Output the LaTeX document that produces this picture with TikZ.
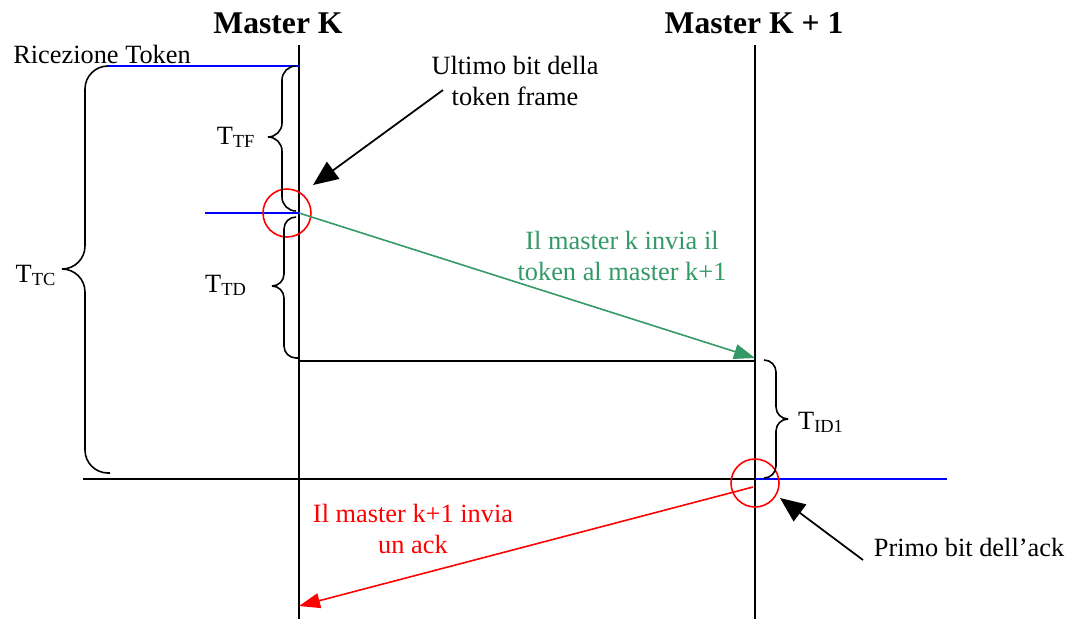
\documentclass[tikz,border=0pt]{standalone}
\usepackage{fontspec}
\setmainfont{Liberation Serif}
\usetikzlibrary{arrows.meta}
\definecolor{sendgreen}{RGB}{51,153,102}
\tikzset{
  timeline/.style={line width=1pt, draw=black},
  bitline/.style={line width=1pt, draw=blue},
  bitmark/.style={line width=0.9pt, draw=red},
  bracepath/.style={line width=0.9pt, draw=black},
  msgarrow/.style={line width=0.9pt, -{Triangle[length=0.42cm, width=0.3cm]}},
  callout/.style={line width=1pt, draw=black, -{Triangle[length=0.5cm, width=0.42cm]}},
  lbl/.style={font=\fontsize{15}{17.5}\selectfont, inner sep=0pt, align=center, anchor=base},
  mastertitle/.style={font=\fontsize{18}{21}\selectfont\bfseries, inner sep=0pt, anchor=base},
}

\begin{document}
\begin{tikzpicture}[x=0.02cm, y=-0.02cm]
\useasboundingbox (0,0) rectangle (1070,619);
% time axes of the two masters
\coordinate (kTop) at (299,45);
\coordinate (kBot) at (299,619);
\coordinate (kaTop) at (755,45);
\coordinate (kaBot) at (755,619);
\node[mastertitle] (masterK) at (278,33) {Master K};
\node[mastertitle] (masterKa) at (754,33) {Master K + 1};
\draw[timeline] (kTop) -- (kBot);
\draw[timeline] (kaTop) -- (kaBot);
% events
\coordinate (rxStart) at (299,66);
\coordinate (rxLeft) at (107,66);
\coordinate (lastBit) at (299,213);
\coordinate (lastBitLeft) at (205,213);
\coordinate (tokenIn) at (755,358);
\coordinate (tdEnd) at (299,361);
\coordinate (tdEndRight) at (755,361);
\coordinate (ackBit) at (755,479);
\coordinate (ackLeft) at (83,479);
\coordinate (ackRight) at (947,479);
\coordinate (ackOut) at (753,487);
\coordinate (ackIn) at (299,606);
\draw[bitline] (rxLeft) -- (rxStart);
\draw[bitline] (lastBitLeft) -- (lastBit);
\draw[timeline] (tdEnd) -- (tdEndRight);
\draw[timeline] (ackLeft) -- (ackBit);
\draw[bitline] (ackBit) -- (ackRight);
\node[lbl] (rxLabel) at (102,63) {Ricezione Token};
% bit markers
\draw[bitmark] (287,213) circle (0.48cm);
\draw[bitmark] (755,483) circle (0.48cm);
% braces
\draw[bracepath, rounded corners=0.46cm] (108,66) -- (85,66) -- (85,269) -- (62,269);
\draw[bracepath, rounded corners=0.46cm] (62,269) -- (85,269) -- (85,473) -- (110,473);
\draw[bracepath, rounded corners=0.28cm] (296,66) -- (282,66) -- (282,137) -- (268,137);
\draw[bracepath, rounded corners=0.28cm] (268,137) -- (282,137) -- (282,211) -- (296,211);
\draw[bracepath, rounded corners=0.24cm] (296,217) -- (284,217) -- (284,286) -- (272,286);
\draw[bracepath, rounded corners=0.24cm] (272,286) -- (284,286) -- (284,358) -- (298,358);
\draw[bracepath, rounded corners=0.24cm] (764,360) -- (776,360) -- (776,419) -- (788,419);
\draw[bracepath, rounded corners=0.24cm] (788,419) -- (776,419) -- (776,478) -- (764,478);
\node[lbl] (tTC) at (36,282) {T\textsubscript{TC}};
\node[lbl] (tTF) at (236,144) {T\textsubscript{TF}};
\node[lbl] (tTD) at (226,292) {T\textsubscript{TD}};
\node[lbl] (tID) at (821,429) {T\textsubscript{ID1}};
% messages
\draw[msgarrow, draw=sendgreen, fill=sendgreen] (lastBit) -- (tokenIn);
\node[lbl, text=sendgreen] (tokenText) at (622,280) {Il master k invia il\\token al master k+1};
\draw[msgarrow, draw=red, fill=red] (ackOut) -- (ackIn);
\node[lbl, text=red] (ackText) at (413,553) {Il master k+1 invia\\un ack};
% callouts
\node[lbl] (lastBitText) at (515,105) {Ultimo bit della\\token frame};
\coordinate (lastBitFrom) at (443,90);
\coordinate (lastBitTo) at (313,185);
\draw[callout, fill=black] (lastBitFrom) -- (lastBitTo);
\node[lbl] (ackBitText) at (969,556) {Primo bit dell’ack};
\coordinate (ackBitFrom) at (863,560);
\coordinate (ackBitTo) at (780,498);
\draw[callout, fill=black] (ackBitFrom) -- (ackBitTo);
\end{tikzpicture}
\end{document}
